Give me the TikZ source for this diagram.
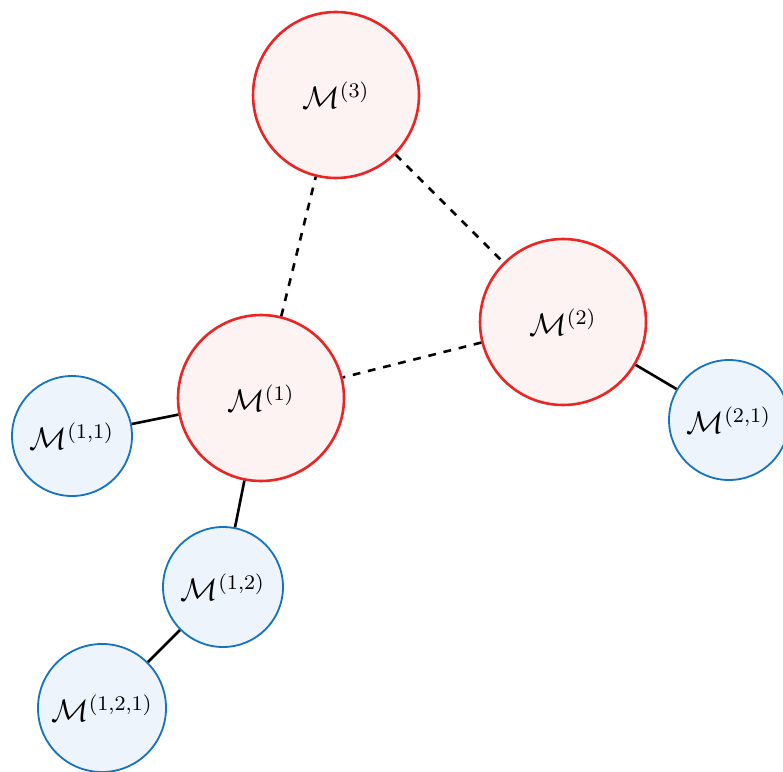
\documentclass[tikz,border=0pt]{standalone}
\usepackage{amsmath}
\definecolor{redline}{RGB}{236,36,36}
\definecolor{redfill}{RGB}{253,243,243}
\definecolor{blueline}{RGB}{22,116,190}
\definecolor{bluefill}{RGB}{238,244,251}
\begin{document}
\begin{tikzpicture}[x=0.385pt,y=-0.385pt,
  bignode/.style={circle,draw=redline,fill=redfill,line width=1pt,minimum size=63.9pt,inner sep=0pt,font=\fontsize{11.5}{13}\selectfont},
  smallnode/.style={circle,draw=blueline,fill=bluefill,line width=0.7pt,minimum size=46.2pt,inner sep=0pt,font=\fontsize{11.5}{13}\selectfont},
  link/.style={line width=1pt,black},
  dlink/.style={line width=1pt,black,dash pattern=on 3pt off 3pt}]
\useasboundingbox (0,0) rectangle (783,771);
\node[bignode] (m3) at (336,95) {$\mathcal{M}^{(3)}$};
\node[bignode] (m2) at (563,322) {$\mathcal{M}^{(2)}$};
\node[bignode] (m1) at (261,398) {$\mathcal{M}^{(1)}$};
\node[smallnode] (m11) at (72,436) {$\mathcal{M}^{(1,1)}$};
\node[smallnode] (m12) at (223,587) {$\mathcal{M}^{(1,2)}$};
\node[smallnode,minimum size=49.3pt] (m121) at (102,708) {$\mathcal{M}^{(1,2,1)}$};
\node[smallnode] (m21) at (729,420) {$\mathcal{M}^{(2,1)}$};
\draw[dlink] (m1) -- (m3);
\draw[dlink] (m3) -- (m2);
\draw[dlink] (m2) -- (m1);
\draw[link] (m1) -- (m11);
\draw[link] (m1) -- (m12);
\draw[link] (m12) -- (m121);
\draw[link] (m2) -- (m21);
\end{tikzpicture}
\end{document}
